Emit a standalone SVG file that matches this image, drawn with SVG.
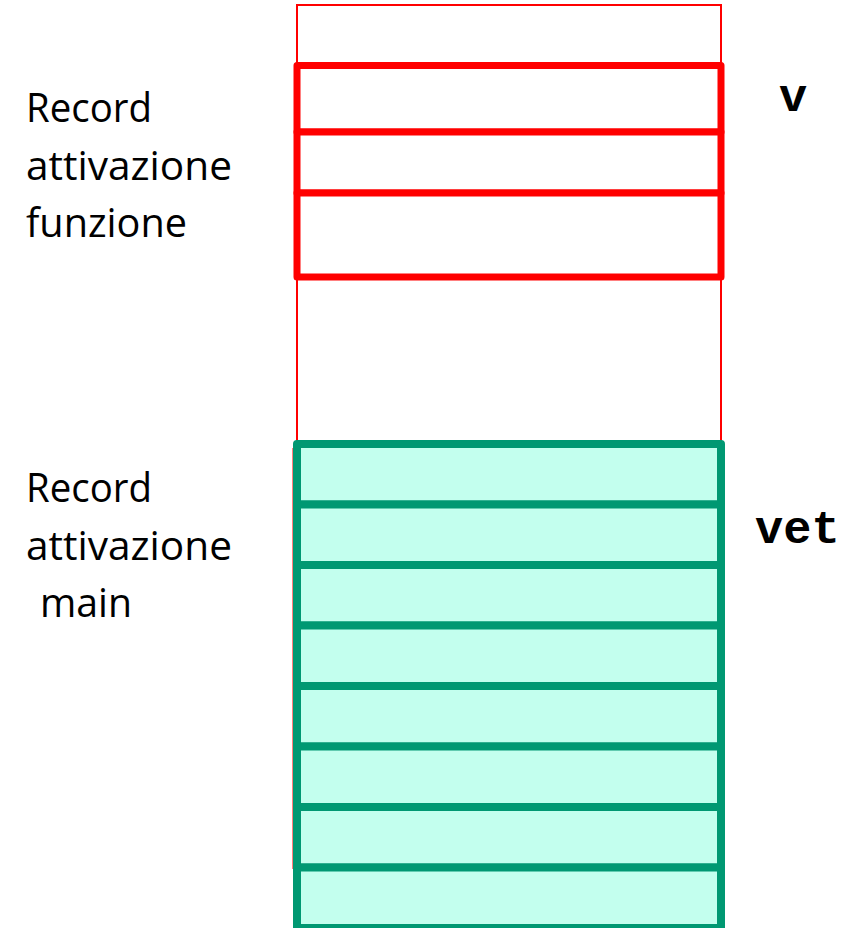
<svg xmlns="http://www.w3.org/2000/svg" width="861" height="928" viewBox="0 0 861 928">
<style>
.lbl{font-family:"Open Sans","Noto Sans",sans-serif;font-size:41px;fill:#000}
.code{font-family:"Liberation Mono","Courier New",monospace;font-size:47px;font-weight:bold;fill:#000}
.thin{fill:none;stroke:#FF0000;stroke-width:2}
.fr{fill:#FFFFFF;stroke:#FF0000;stroke-width:7;stroke-linejoin:round}
.mr{fill:#C3FFEE;stroke:#009872;stroke-width:8;stroke-linejoin:round}
</style>
<rect width="861" height="928" fill="#FFFFFF"/>
<g id="stack">
<rect class="thin" x="297" y="5" width="424" height="444"/>
<rect class="thin" x="293.5" y="449" width="427" height="419"/>
</g>
<g id="funzione-record">
<rect class="fr" x="297" y="65.5" width="424" height="66.5"/>
<rect class="fr" x="297" y="132" width="424" height="61"/>
<rect class="fr" x="297" y="193" width="424" height="84"/>
</g>
<g id="main-record">
<rect class="mr" x="297" y="444" width="424" height="60.5"/>
<rect class="mr" x="297" y="504.5" width="424" height="60.5"/>
<rect class="mr" x="297" y="565" width="424" height="60.5"/>
<rect class="mr" x="297" y="625.5" width="424" height="60.5"/>
<rect class="mr" x="297" y="686" width="424" height="60.5"/>
<rect class="mr" x="297" y="746.5" width="424" height="60.5"/>
<rect class="mr" x="297" y="807" width="424" height="60.5"/>
<rect class="mr" x="297" y="867.5" width="424" height="60.5"/>
</g>
<g id="label-funzione">
<text class="lbl" x="26" y="122" textLength="126" lengthAdjust="spacingAndGlyphs">Record</text>
<text class="lbl" x="26" y="180" textLength="206" lengthAdjust="spacingAndGlyphs">attivazione</text>
<text class="lbl" x="26" y="237" textLength="161" lengthAdjust="spacingAndGlyphs">funzione</text>
</g>
<g id="label-main">
<text class="lbl" x="26" y="502" textLength="126" lengthAdjust="spacingAndGlyphs">Record</text>
<text class="lbl" x="26" y="560" textLength="206" lengthAdjust="spacingAndGlyphs">attivazione</text>
<text class="lbl" x="40" y="617" textLength="92" lengthAdjust="spacingAndGlyphs">main</text>
</g>
<g id="label-v">
<text class="code" x="779" y="111">v</text>
</g>
<g id="label-vet">
<text class="code" x="755" y="543">vet</text>
</g>
</svg>
